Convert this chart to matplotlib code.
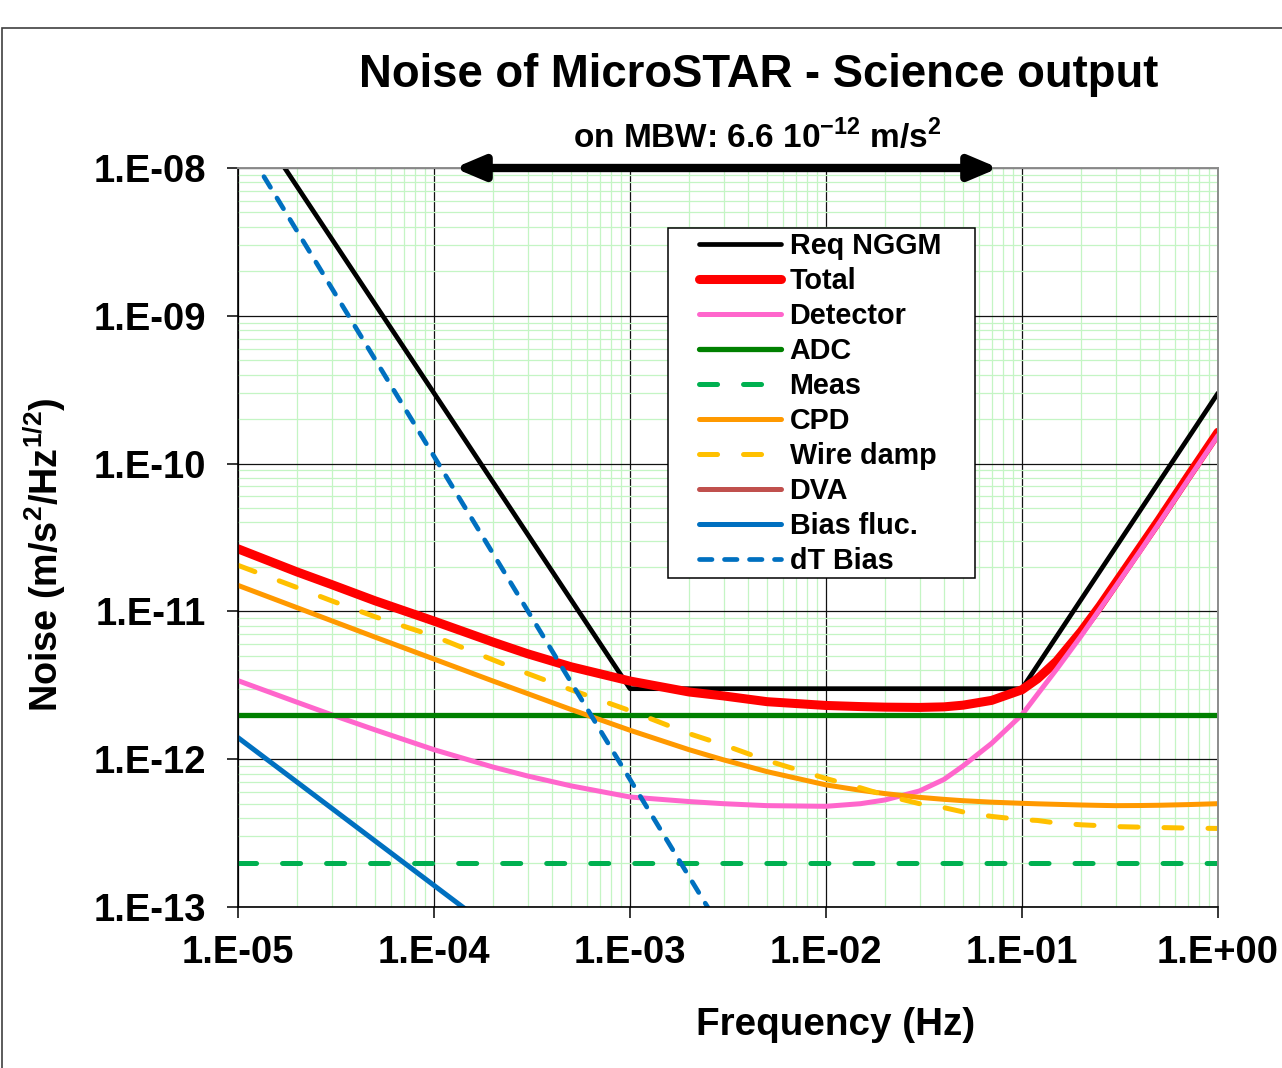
import numpy as np
import matplotlib
matplotlib.use("Agg")
import matplotlib.pyplot as plt
from matplotlib.patches import Rectangle
from matplotlib.ticker import FuncFormatter, LogLocator, NullFormatter

# --- data (Hz, m/s^2/Hz^1/2) ---
freq = [1e-5, 2e-5, 3e-5, 5e-5, 1e-4, 2e-4, 3e-4, 5e-4, 1e-3, 2e-3, 3e-3, 5e-3,
        1e-2, 1.5e-2, 2e-2, 3e-2, 4e-2, 5e-2, 7e-2, 1e-1, 1.2e-1, 1.5e-1, 2e-1,
        2.5e-1, 3e-1, 4e-1, 5e-1, 7e-1, 1.0]
total = [2.65e-11, 1.85e-11, 1.52e-11, 1.18e-11, 8.6e-12, 6.2e-12, 5.17e-12, 4.22e-12,
         3.38e-12, 2.85e-12, 2.68e-12, 2.45e-12, 2.31e-12, 2.27e-12, 2.25e-12, 2.24e-12,
         2.26e-12, 2.32e-12, 2.5e-12, 2.95e-12, 3.5e-12, 4.6e-12, 7.3e-12, 1.09e-11,
         1.55e-11, 2.7e-11, 4.15e-11, 8.1e-11, 1.63e-10]
detector = [3.4e-12, 2.43e-12, 2.0e-12, 1.58e-12, 1.16e-12, 8.85e-13, 7.7e-13, 6.6e-13,
            5.55e-13, 5.17e-13, 5.0e-13, 4.85e-13, 4.8e-13, 5.0e-13, 5.3e-13, 6.1e-13,
            7.3e-13, 9.0e-13, 1.28e-12, 2.0e-12, 2.75e-12, 4.05e-12, 6.8e-12, 1.04e-11,
            1.47e-11, 2.55e-11, 3.95e-11, 7.7e-11, 1.55e-10]
cpd = [1.5e-11, 1.06e-11, 8.65e-12, 6.7e-12, 4.76e-12, 3.38e-12, 2.78e-12, 2.17e-12,
       1.57e-12, 1.16e-12, 9.9e-13, 8.24e-13, 6.7e-13, 6.16e-13, 5.85e-13, 5.52e-13,
       5.35e-13, 5.24e-13, 5.12e-13, 5.03e-13, 4.99e-13, 4.95e-13, 4.9e-13, 4.87e-13,
       4.85e-13, 4.86e-13, 4.88e-13, 4.93e-13, 5.0e-13]
wire_damp = [2.05e-11, 1.45e-11, 1.18e-11, 9.2e-12, 6.8e-12, 4.7e-12, 3.8e-12, 2.95e-12,
             2.13e-12, 1.49e-12, 1.25e-12, 9.8e-13, 7.4e-13, 6.4e-13, 5.7e-13, 5.0e-13,
             4.7e-13, 4.4e-13, 4.1e-13, 3.9e-13, 3.85e-13, 3.7e-13, 3.6e-13, 3.55e-13,
             3.5e-13, 3.47e-13, 3.45e-13, 3.42e-13, 3.4e-13]

req_freq = [1e-5, 1e-3, 1e-1, 1.0]
req_nggm = [3e-8, 3e-12, 3e-12, 3e-10]
flat_freq = [1e-5, 1.0]
adc = [2e-12, 2e-12]
meas = [2e-13, 2e-13]
bias_freq = [1e-5, 1e-4, 1e-3]
bias_fluc = [1.4e-12, 1.4e-13, 1.4e-14]
dt_freq = [1e-5, 1e-4, 1e-3, 1e-2]
dt_bias = [1.7e-8, 1.12e-10, 7.3e-13, 4.8e-15]
# DVA is below the plotted range: it only shows up in the legend
dva_freq = []
dva = []

mbw_band = [1.27e-4, 7.6e-2]  # ends of the measurement bandwidth arrow

W, H = 1282, 1068

plt.rcParams["font.family"] = ["Liberation Sans", "DejaVu Sans"]
plt.rcParams["font.weight"] = "bold"
plt.rcParams["mathtext.fontset"] = "custom"
plt.rcParams["mathtext.bf"] = "Liberation Sans:bold"
plt.rcParams["mathtext.rm"] = "Liberation Sans:bold"
plt.rcParams["lines.scale_dashes"] = False  # dash lengths below are in points


def fx(px: float) -> float:
    return px / W


def fy(py: float) -> float:
    return 1 - py / H


def decade_label(v, pos) -> str:
    exp = int(round(np.log10(v)))
    return f"1.E{exp:+03d}"


def plot_noise():
    fig = plt.figure(figsize=(W / 100, H / 100), dpi=100)
    ax = fig.add_axes([fx(238), fy(907), fx(1218) - fx(238), fy(168) - fy(907)])
    ax.set_xscale("log")
    ax.set_yscale("log")

    caps = dict(solid_capstyle="round", dash_capstyle="round")
    long_dash = (0, (13.0, 18.7))
    short_dash = (0, (9.0, 9.0))
    lines = []
    lines += ax.plot(req_freq, req_nggm, color="black", lw=3.4, label="Req NGGM", **caps)
    lines += ax.plot(freq, total, color="#ff0000", lw=6.5, label="Total", **caps)
    lines += ax.plot(freq, detector, color="#ff66cc", lw=3.6, label="Detector", **caps)
    lines += ax.plot(flat_freq, adc, color="#008000", lw=3.8, label="ADC", **caps)
    lines += ax.plot(flat_freq, meas, color="#00b050", lw=3.6, ls=long_dash,
                     label="Meas", **caps)
    lines += ax.plot(freq, cpd, color="#ff9900", lw=3.6, label="CPD", **caps)
    lines += ax.plot(freq, wire_damp, color="#ffc000", lw=3.6, ls=long_dash,
                     label="Wire damp", **caps)
    lines += ax.plot(dva_freq, dva, color="#c0504d", lw=3.6, label="DVA", **caps)
    lines += ax.plot(bias_freq, bias_fluc, color="#0070c0", lw=3.6, label="Bias fluc.", **caps)
    lines += ax.plot(dt_freq, dt_bias, color="#0070c0", lw=3.4, ls=short_dash,
                     label="dT Bias", **caps)

    ax.set_xlim(1e-5, 1.0)
    ax.set_ylim(1e-13, 1e-8)

    # grid: black decades, light green sub-divisions
    for axis in (ax.xaxis, ax.yaxis):
        axis.set_major_locator(LogLocator(base=10, numticks=20))
        axis.set_minor_locator(LogLocator(base=10, subs=np.arange(2, 10), numticks=20))
        axis.set_major_formatter(FuncFormatter(decade_label))
        axis.set_minor_formatter(NullFormatter())
    ax.set_axisbelow(True)
    ax.grid(which="minor", color="#c4f5c4", lw=0.9)
    ax.grid(which="major", color="#111111", lw=0.9)
    ax.tick_params(which="minor", length=0)
    ax.tick_params(which="major", direction="out", length=8, width=1.1, labelsize=27.5)
    ax.tick_params(axis="y", which="major", pad=15)
    ax.tick_params(axis="x", which="major", pad=12)
    for side in ("left", "bottom"):
        ax.spines[side].set_color("black")
        ax.spines[side].set_linewidth(1.2)
    for side in ("top", "right"):
        ax.spines[side].set_color("#8c8c8c")
        ax.spines[side].set_linewidth(1.4)

    # measurement bandwidth arrow along the top edge
    ax.annotate("", xy=(mbw_band[1], 1.0), xytext=(mbw_band[0], 1.0),
                xycoords=("data", "axes fraction"), textcoords=("data", "axes fraction"),
                annotation_clip=False,
                arrowprops=dict(arrowstyle="<|-|>,head_length=0.85,head_width=0.36",
                                mutation_scale=20, lw=6.0, color="black",
                                shrinkA=0, shrinkB=0))

    # legend with a hand drawn box (tight vertical, wide horizontal padding)
    box = Rectangle((fx(668), fy(578)), fx(975) - fx(668), fy(228) - fy(578),
                    transform=fig.transFigure, facecolor="white", edgecolor="black",
                    lw=1.1, zorder=4.5, clip_on=False)
    ax.add_patch(box)
    leg = ax.legend(handles=lines, loc="upper left", bbox_to_anchor=(fx(699), fy(232)),
                    bbox_transform=fig.transFigure, frameon=False, borderpad=0,
                    borderaxespad=0, handlelength=2.85, handletextpad=0.3,
                    labelspacing=0.245, fontsize=20.7)
    leg.set_zorder(5)

    fig.text(fx(759), fy(75), "Noise of MicroSTAR - Science output",
             ha="center", va="center", fontsize=32.8)
    fig.text(fx(757), fy(137), r"on MBW: 6.6 10$^{\mathbf{-12}}$ m/s$^{\mathbf{2}}$",
             ha="center", va="center", fontsize=24)
    fig.text(fx(836), fy(1025), "Frequency (Hz)", ha="center", va="center", fontsize=27.8)
    fig.text(fx(45), fy(555), r"Noise (m/s$^{\mathbf{2}}$/Hz$^{\mathbf{1/2}}$)",
             ha="center", va="center", rotation=90, fontsize=27.2)

    # outer chart frame (runs off the right and bottom edge of the image)
    frame = Rectangle((fx(1.5), -0.05), 1.1, fy(27.5) + 0.05, transform=fig.transFigure,
                      fill=False, edgecolor="#404040", lw=1.2)
    fig.patches.append(frame)

    fig.savefig("out.png", dpi=100)
    plt.close(fig)


if __name__ == "__main__":
    plot_noise()
